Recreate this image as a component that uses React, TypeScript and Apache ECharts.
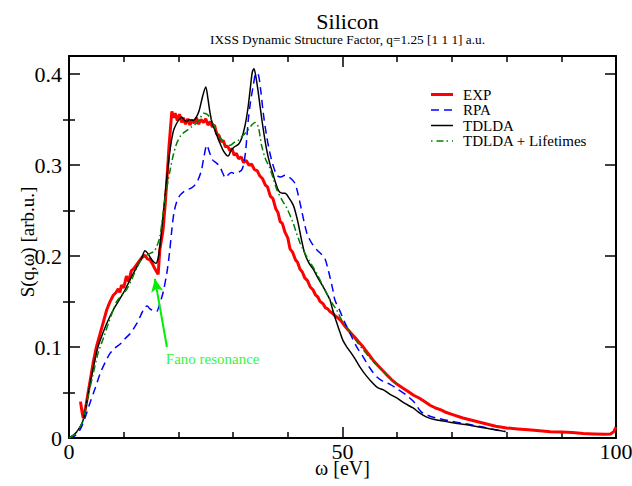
import React, { useEffect, useRef } from "react";
import * as echarts from "echarts";

const SERIES_NAMES = ["EXP", "RPA", "TDLDA", "TDLDA + Lifetimes"];
const SERIES_COLORS = ["#ff0000", "#0000ff", "#000000", "#008000"];
const X_LABELS = [0, 50, 100];
const Y_MAJOR = [0, 0.1, 0.2, 0.3, 0.4];
const Y_MINOR = [0.05, 0.15, 0.25, 0.35];
const Y_TITLE = "S(q,ω) [arb.u.]";
const X_TITLE = "ω [eV]";

const expData: number[][] = [
  [2.1, 0.040], [2.4, 0.028], [2.6, 0.022], [3.0, 0.032], [3.5, 0.050], [4.0, 0.068], [4.4, 0.082],
  [5.0, 0.100], [5.7, 0.115], [6.3, 0.128], [6.9, 0.141], [7.5, 0.150], [8.1, 0.157], [8.6, 0.160],
  [9.0, 0.164], [9.3, 0.160], [9.6, 0.168], [10.0, 0.165], [10.5, 0.178], [10.9, 0.172], [11.4, 0.184],
  [11.8, 0.186], [12.4, 0.191], [12.9, 0.195], [13.4, 0.199], [13.9, 0.201], [14.3, 0.197], [14.8, 0.196],
  [15.3, 0.191], [15.7, 0.186], [16.1, 0.182], [16.3, 0.180], [16.6, 0.207], [17.2, 0.229], [17.6, 0.258],
  [17.9, 0.284], [18.3, 0.322], [18.8, 0.359], [19.1, 0.352], [19.4, 0.357], [19.8, 0.349], [20.2, 0.356],
  [20.6, 0.347], [20.9, 0.352], [21.3, 0.345], [21.7, 0.351], [22.1, 0.344], [22.5, 0.350], [22.9, 0.346],
  [23.3, 0.352], [23.7, 0.345], [24.1, 0.350], [24.6, 0.347], [25.0, 0.351], [25.4, 0.344], [25.8, 0.348],
  [26.2, 0.342], [26.6, 0.344], [27.0, 0.334], [27.4, 0.333], [27.8, 0.326], [28.2, 0.327], [28.6, 0.320],
  [29.0, 0.321], [29.4, 0.316], [29.8, 0.318], [30.2, 0.311], [30.6, 0.313], [31.0, 0.307], [31.5, 0.309],
  [31.9, 0.303], [32.4, 0.305], [32.9, 0.300], [33.4, 0.301], [33.9, 0.295], [34.4, 0.294], [34.9, 0.288],
  [35.4, 0.285], [35.9, 0.278], [36.3, 0.276], [36.8, 0.266], [37.3, 0.263], [37.8, 0.252], [38.2, 0.248],
  [38.6, 0.238], [39.0, 0.236], [39.5, 0.226], [40.0, 0.220], [40.4, 0.208], [40.9, 0.204], [41.4, 0.196],
  [41.8, 0.193], [42.2, 0.186], [42.7, 0.182], [43.1, 0.176], [43.6, 0.173], [44.1, 0.166], [44.6, 0.163],
  [45.1, 0.157], [45.5, 0.155], [45.9, 0.150], [46.4, 0.148], [46.9, 0.143], [47.3, 0.142], [47.7, 0.139],
  [48.2, 0.137], [48.7, 0.134], [49.2, 0.132], [49.7, 0.129], [50.3, 0.124], [51.0, 0.119], [51.6, 0.115],
  [52.2, 0.111], [52.9, 0.106], [53.8, 0.100], [54.8, 0.092], [55.8, 0.084], [56.9, 0.077], [58.0, 0.070],
  [59.0, 0.064], [60.0, 0.059], [61.0, 0.055], [62.0, 0.051], [63.0, 0.047], [64.0, 0.044], [65.0, 0.040],
  [66.0, 0.036], [67.0, 0.033], [68.0, 0.031], [69.0, 0.028], [70.0, 0.026], [72.0, 0.022], [74.0, 0.019],
  [76.0, 0.016], [78.0, 0.013], [80.0, 0.011], [82.0, 0.010], [84.0, 0.009], [86.0, 0.008], [88.0, 0.007],
  [90.0, 0.0065], [92.0, 0.006], [94.0, 0.005], [96.0, 0.0045], [98.0, 0.004], [99.0, 0.0045], [99.6, 0.007],
  [100, 0.012],
];

const rpaData: number[][] = [
  [0, 0], [1, 0.002], [2, 0.009], [2.8, 0.020], [3.8, 0.038], [4.8, 0.055], [5.7, 0.071], [6.6, 0.083],
  [7.5, 0.093], [8.4, 0.099], [9.3, 0.103], [10.2, 0.109], [11.2, 0.115], [12.4, 0.126], [13.2, 0.136],
  [13.9, 0.144], [14.3, 0.145], [14.8, 0.142], [15.4, 0.140], [16.0, 0.139], [16.6, 0.148], [17.2, 0.160],
  [17.9, 0.182], [18.4, 0.205], [18.8, 0.229], [19.2, 0.248], [19.7, 0.260], [20.3, 0.267], [21.0, 0.271],
  [21.7, 0.273], [22.4, 0.275], [23.0, 0.278], [23.6, 0.284], [24.2, 0.294], [24.7, 0.310], [25.2, 0.322],
  [25.7, 0.314], [26.2, 0.306], [27.0, 0.302], [27.6, 0.298], [28.2, 0.290], [28.6, 0.286], [29.2, 0.290],
  [29.7, 0.292], [30.2, 0.291], [30.8, 0.292], [31.5, 0.294], [31.9, 0.300], [32.3, 0.316], [32.8, 0.351],
  [33.2, 0.370], [33.7, 0.388], [34.2, 0.401], [34.6, 0.400], [35.0, 0.385], [35.5, 0.358], [36.1, 0.333],
  [36.7, 0.314], [37.3, 0.300], [38.0, 0.289], [38.7, 0.287], [39.5, 0.289], [40.2, 0.287], [40.8, 0.284],
  [41.3, 0.280], [41.8, 0.270], [42.5, 0.251], [43.5, 0.225], [44.4, 0.214], [45.3, 0.207], [46.3, 0.201],
  [46.8, 0.197], [47.3, 0.187], [47.7, 0.177], [48.2, 0.164], [48.6, 0.152], [49.5, 0.140], [50.5, 0.126],
  [51.7, 0.111], [52.7, 0.099], [53.8, 0.089], [55.0, 0.077], [56.3, 0.067], [57.5, 0.062], [58.7, 0.059],
  [60.0, 0.054], [61.7, 0.047], [63.0, 0.040], [64.2, 0.030], [64.8, 0.027], [66.0, 0.024], [67.2, 0.022],
  [69.5, 0.019], [72.1, 0.016], [74.0, 0.014], [75.7, 0.012], [78.0, 0.009], [79.8, 0.007],
];

const tdldaData: number[][] = [
  [0, 0], [1, 0.004], [2, 0.012], [2.6, 0.020], [3.5, 0.048], [4.4, 0.076], [5.3, 0.100], [6.3, 0.117],
  [7.2, 0.130], [8.1, 0.141], [9.0, 0.150], [10.0, 0.160], [10.5, 0.166], [11.5, 0.178], [12.4, 0.188],
  [13.3, 0.198], [13.9, 0.206], [14.4, 0.203], [14.8, 0.199], [15.4, 0.194], [15.9, 0.192], [16.3, 0.198],
  [16.6, 0.210], [17.2, 0.245], [17.9, 0.287], [18.5, 0.318], [19.1, 0.338], [19.6, 0.345], [20.0, 0.349],
  [20.6, 0.353], [21.0, 0.350], [21.5, 0.348], [22.0, 0.350], [22.7, 0.349], [23.3, 0.353], [23.8, 0.360],
  [24.4, 0.375], [25.0, 0.386], [25.4, 0.373], [25.8, 0.357], [26.2, 0.346], [26.7, 0.338], [27.2, 0.330],
  [27.6, 0.324], [28.2, 0.316], [28.8, 0.311], [29.1, 0.310], [29.6, 0.316], [30.2, 0.320], [31.0, 0.323],
  [31.6, 0.330], [32.2, 0.344], [32.7, 0.362], [33.1, 0.382], [33.5, 0.402], [33.8, 0.406], [34.2, 0.396],
  [34.6, 0.380], [34.9, 0.366], [35.5, 0.340], [36.1, 0.318], [36.7, 0.302], [37.3, 0.290], [37.8, 0.280],
  [38.3, 0.272], [39.0, 0.269], [39.5, 0.269], [40.2, 0.264], [41.0, 0.256], [41.5, 0.246], [41.9, 0.236],
  [42.5, 0.218], [43.1, 0.203], [43.8, 0.193], [44.7, 0.185], [45.6, 0.175], [46.5, 0.166], [47.1, 0.159],
  [47.7, 0.152], [48.2, 0.141], [48.6, 0.133], [49.1, 0.124], [49.5, 0.117], [50.1, 0.107], [50.8, 0.100],
  [51.4, 0.095], [52.3, 0.087], [53.2, 0.078], [54.4, 0.068], [55.6, 0.060], [56.5, 0.055], [57.5, 0.053],
  [58.7, 0.048], [59.9, 0.044], [61.4, 0.038], [62.9, 0.033], [64.2, 0.027], [65.4, 0.023], [67.0, 0.020],
  [69.0, 0.018], [71.0, 0.016], [73.3, 0.014], [75.0, 0.012], [77.0, 0.010], [79.8, 0.007],
];

const lifetimesData: number[][] = [
  [0, 0], [1, 0.004], [2, 0.012], [2.6, 0.020], [3.5, 0.046], [4.4, 0.070], [5.3, 0.093], [6.3, 0.110],
  [7.2, 0.126], [8.1, 0.141], [8.7, 0.150], [9.5, 0.156], [10.5, 0.163], [11.5, 0.175], [12.4, 0.187],
  [13.2, 0.196], [14.0, 0.200], [14.8, 0.203], [15.5, 0.205], [16.0, 0.210], [16.6, 0.221], [17.2, 0.247],
  [17.8, 0.272], [18.5, 0.295], [19.1, 0.312], [19.7, 0.324], [20.5, 0.333], [21.5, 0.338], [22.4, 0.342],
  [23.3, 0.346], [24.0, 0.352], [24.6, 0.357], [25.2, 0.356], [25.8, 0.352], [26.4, 0.345], [27.0, 0.337],
  [27.8, 0.329], [28.8, 0.322], [29.5, 0.322], [30.2, 0.325], [30.9, 0.327], [31.7, 0.332], [32.5, 0.337],
  [33.4, 0.344], [34.0, 0.347], [34.6, 0.342], [35.2, 0.322], [35.9, 0.307], [36.7, 0.297], [37.3, 0.286],
  [38.0, 0.273], [38.9, 0.262], [39.8, 0.253], [41.0, 0.236], [41.6, 0.225], [42.2, 0.215], [42.8, 0.207],
  [43.5, 0.199], [44.4, 0.190], [45.3, 0.181], [46.2, 0.170], [47.1, 0.159], [48.0, 0.149], [48.9, 0.141],
  [50.1, 0.127], [51.4, 0.117], [52.6, 0.106], [53.8, 0.097], [55.0, 0.088], [56.3, 0.080], [57.5, 0.073],
  [58.7, 0.066], [59.9, 0.060],
];

const fanoLabel = "Fano resonance";
const fanoTextAt = [17.7, 0.087];
const fanoArrowFrom = [17.9, 0.1];
const fanoArrowTo = [15.7, 0.175];

const FONT = "'Liberation Serif', 'DejaVu Serif', serif";

const LEGEND_STYLES: any[] = [
  { width: 3 },
  { width: 1.5, lineDash: [8, 5] },
  { width: 1.5 },
  { width: 1.5, lineDash: [1.5, 4, 7, 3] },
];

export default function App() {
  const ref = useRef<HTMLDivElement>(null);
  useEffect(() => {
    if (!ref.current) return;
    const chart = echarts.init(ref.current, null, { renderer: "svg" });
    const axisLine = { show: true, onZero: false, lineStyle: { color: "#000", width: 2 } };
    const xBase = {
      type: "value",
      min: 0,
      max: 100,
      interval: 50,
      axisLine,
      axisTick: { show: true, inside: true, length: 11, lineStyle: { color: "#000", width: 1.5 } },
      minorTick: { show: true, splitNumber: 5, length: 6, lineStyle: { color: "#000", width: 1.5 } },
      splitLine: { show: false },
      minorSplitLine: { show: false },
    };
    const yBase = {
      type: "value",
      min: 0,
      max: 0.42,
      axisLine,
      axisTick: { show: true, inside: true, length: 11, customValues: Y_MAJOR, lineStyle: { color: "#000", width: 1.5 } },
      splitLine: { show: false },
    };
    const yMinor = {
      type: "value",
      min: 0,
      max: 0.42,
      axisLine: { show: false },
      axisLabel: { show: false },
      axisTick: { show: true, inside: true, length: 6, customValues: Y_MINOR, lineStyle: { color: "#000", width: 1.5 } },
      splitLine: { show: false },
    };
    const graphics: any[] = [];
    SERIES_NAMES.forEach((name, i) => {
      const cy = 94.5 + i * 15.5;
      graphics.push({
        type: "line",
        shape: { x1: 431, y1: cy, x2: 453, y2: cy },
        style: { stroke: SERIES_COLORS[i], lineWidth: LEGEND_STYLES[i].width, lineDash: LEGEND_STYLES[i].lineDash },
        silent: true,
      });
      graphics.push({
        type: "text",
        x: 463,
        y: cy,
        style: { text: name, fontFamily: FONT, fontSize: 15, fill: "#000", verticalAlign: "middle", align: "left" },
        silent: true,
      });
    });
    graphics.push({
      type: "text",
      x: 27.5,
      y: 242,
      rotation: Math.PI / 2,
      style: { text: Y_TITLE, fontFamily: FONT, fontSize: 19, fill: "#000", verticalAlign: "middle", align: "center" },
      silent: true,
    });
    graphics.push({
      type: "text",
      x: 342.5,
      y: 468,
      style: { text: X_TITLE, fontFamily: FONT, fontSize: 20, fill: "#000", verticalAlign: "middle", align: "center" },
      silent: true,
    });
    chart.setOption({
      animation: false,
      textStyle: { fontFamily: FONT },
      title: {
        text: "Silicon",
        subtext: "IXSS Dynamic Structure Factor, q=1.25 [1 1 1] a.u.",
        left: 342.5,
        textAlign: "center",
        top: 5,
        itemGap: 1,
        textStyle: { fontFamily: FONT, fontSize: 22, fontWeight: "normal", color: "#000" },
        subtextStyle: { fontFamily: FONT, fontSize: 13.3, color: "#000" },
      },
      graphic: graphics,
      grid: { left: 69, right: 16, top: 56, bottom: 48, containLabel: false, outerBoundsMode: "none" },
      xAxis: [
        {
          ...xBase,
          position: "bottom",
          axisLabel: { show: true, fontFamily: FONT, fontSize: 22, color: "#000", margin: 2, customValues: X_LABELS },
        },
        { ...xBase, position: "top", axisLabel: { show: false } },
      ],
      yAxis: [
        {
          ...yBase,
          position: "left",
          axisLabel: { show: true, fontFamily: FONT, fontSize: 22, color: "#000", margin: 7, customValues: Y_MAJOR },
        },
        { ...yBase, position: "right", axisLabel: { show: false } },
        { ...yMinor, position: "left" },
        { ...yMinor, position: "right" },
      ],
      series: [
        {
          name: "EXP",
          type: "line",
          data: expData,
          showSymbol: false,
          symbol: "none",
          lineStyle: { color: SERIES_COLORS[0], width: 3 },
          itemStyle: { color: SERIES_COLORS[0] },
          z: 2,
        },
        {
          name: "RPA",
          type: "line",
          data: rpaData,
          showSymbol: false,
          symbol: "none",
          smooth: 0.3,
          lineStyle: { color: SERIES_COLORS[1], width: 1.5, type: [8, 5] },
          itemStyle: { color: SERIES_COLORS[1] },
          z: 3,
        },
        {
          name: "TDLDA",
          type: "line",
          data: tdldaData,
          showSymbol: false,
          symbol: "none",
          smooth: 0.3,
          lineStyle: { color: SERIES_COLORS[2], width: 1.5 },
          itemStyle: { color: SERIES_COLORS[2] },
          z: 4,
        },
        {
          name: "TDLDA + Lifetimes",
          type: "line",
          data: lifetimesData,
          showSymbol: false,
          symbol: "none",
          smooth: 0.3,
          lineStyle: { color: SERIES_COLORS[3], width: 1.5, type: [7, 3, 1.5, 3] },
          itemStyle: { color: SERIES_COLORS[3] },
          z: 5,
        },
        {
          name: "annotation",
          type: "scatter",
          data: [fanoTextAt],
          symbolSize: 0,
          silent: true,
          label: {
            show: true,
            position: "right",
            distance: 0,
            formatter: fanoLabel,
            fontFamily: FONT,
            fontSize: 15,
            color: "#00ee00",
          },
          markLine: {
            silent: true,
            symbol: ["none", "arrow"],
            symbolSize: [9, 13],
            label: { show: false },
            lineStyle: { color: "#00ee00", width: 2, type: "solid" },
            data: [[{ coord: fanoArrowFrom }, { coord: fanoArrowTo }]],
          },
          z: 6,
        },
      ],
    });
    return () => chart.dispose();
  }, []);
  return <div ref={ref} style={{ position: "absolute", left: 0, top: 0, width: 632, height: 486 }} />;
}
